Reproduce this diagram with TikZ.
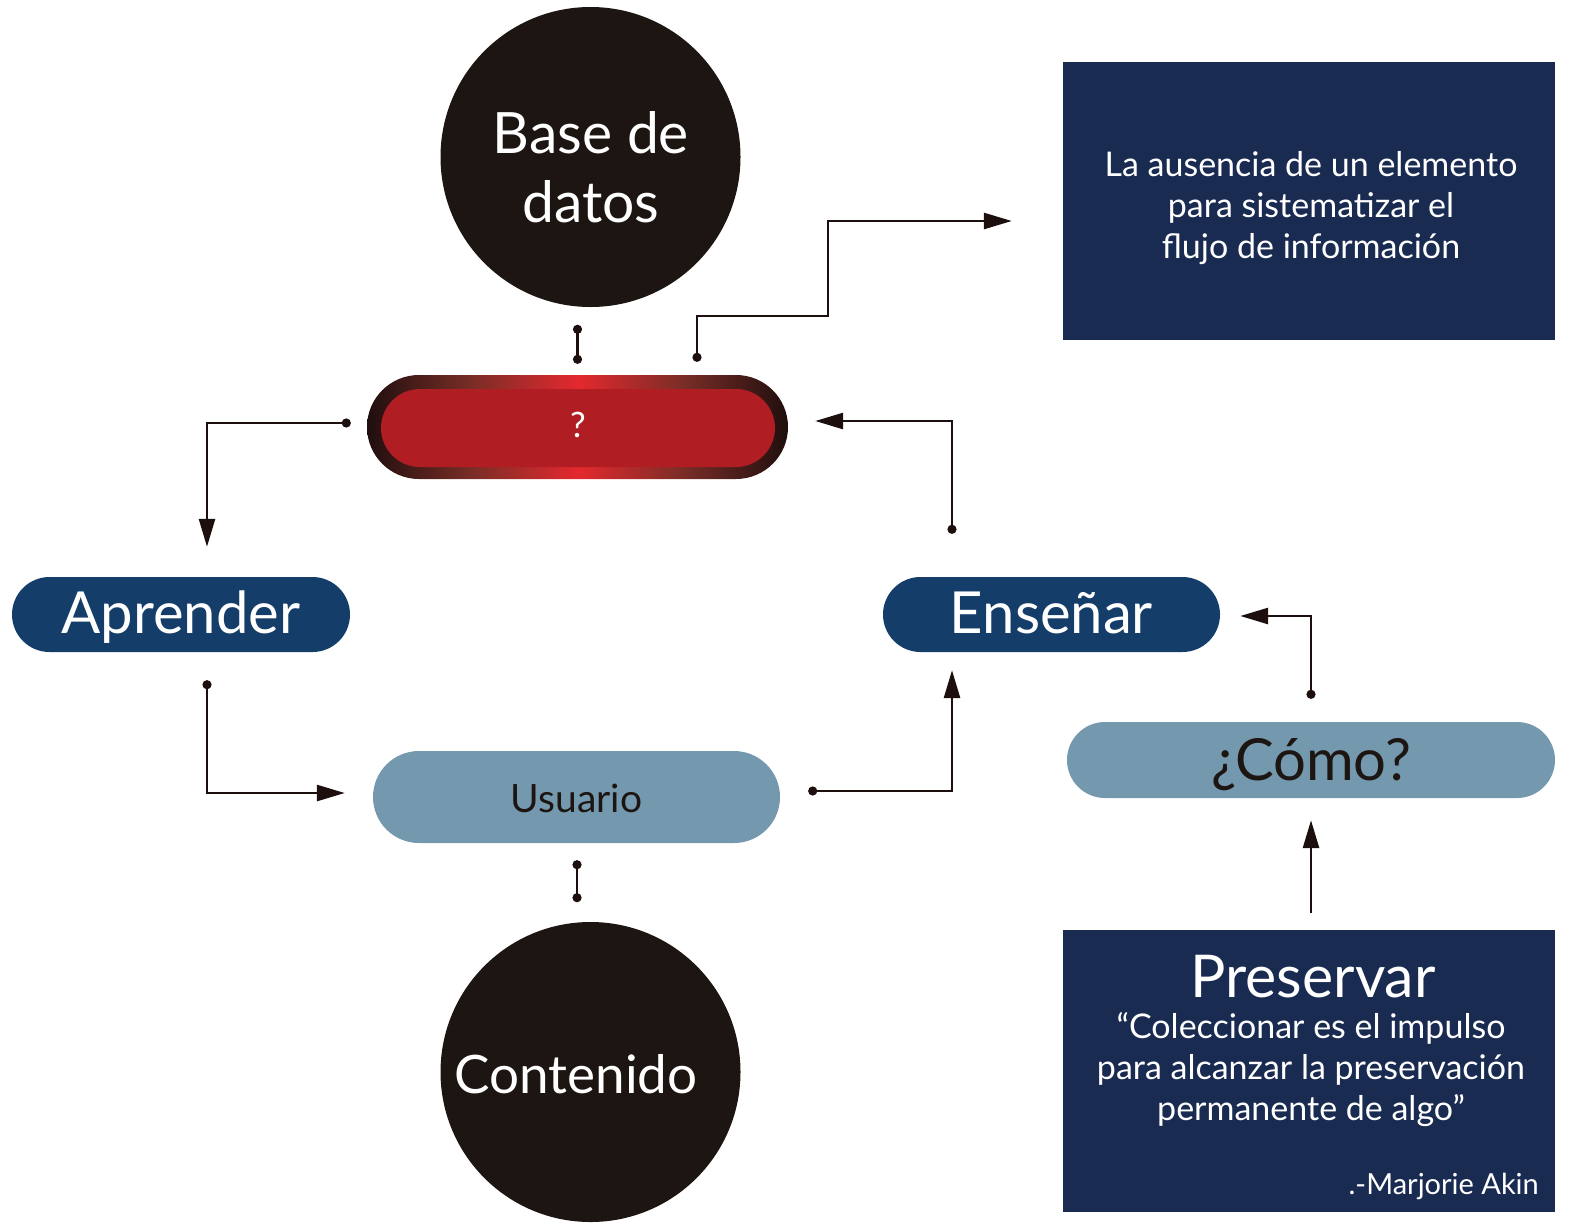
\documentclass[tikz,border=0pt]{standalone}
\usepackage{fontspec}
\setmainfont{Lato}
\usetikzlibrary{arrows.meta,calc}
\definecolor{circ}{HTML}{1C1512}
\definecolor{navy}{HTML}{1A2B52}
\definecolor{pillblue}{HTML}{153D69}
\definecolor{steel}{HTML}{7499AE}
\definecolor{redin}{HTML}{B01E23}
\definecolor{redglowc}{HTML}{E3292E}
\definecolor{reddark}{HTML}{1F0F0E}
\definecolor{redmid}{HTML}{7A2D27}
\definecolor{wire}{HTML}{1C0F0D}
\pgfdeclarehorizontalshading{redglow}{100bp}{color(0bp)=(reddark); color(25bp)=(reddark); color(37.5bp)=(redmid); color(50bp)=(redglowc); color(62.5bp)=(redmid); color(75bp)=(reddark); color(100bp)=(reddark)}
\tikzset{
  bigcirc/.style={circle, fill=circ, minimum size=300bp, inner sep=0pt},
  bigtxt/.style={text=white, font=\fontsize{57bp}{69bp}\selectfont, align=center, inner sep=0pt},
  navybox/.style={rectangle, fill=navy, inner sep=0pt},
  boxtxt/.style={text=white, font=\fontsize{34bp}{41bp}\selectfont, align=center, inner sep=0pt},
  darkpill/.style={rectangle, rounded corners=37.5bp, fill=pillblue, minimum height=75bp,
    text=white, font=\fontsize{58bp}{68bp}\selectfont, inner sep=0pt, text height=37bp, text depth=0pt},
  lightpill/.style={rectangle, fill=steel, text=circ, inner sep=0pt, text depth=0pt},
  conn/.style={draw=wire, line width=2.7bp, {Circle[length=9bp]}-{Triangle[length=28bp,width=16bp]}},
  plainarrow/.style={draw=wire, line width=2.7bp, -{Triangle[length=28bp,width=16bp]}},
  dotline/.style={draw=wire, line width=2.7bp, {Circle[length=9bp]}-{Circle[length=9bp]}}
}
\begin{document}
\begin{tikzpicture}[x=1bp,y=-1bp]
\useasboundingbox (0,0) rectangle (1575,1227);
% circles
\node[bigcirc] (db) at (590.5,157) {};
\node[bigtxt, anchor=base] (dbtext) at (591,222) {Base de\\datos};
\node[bigcirc] (cont) at (590.5,1072) {};
\node[bigtxt, font=\fontsize{53bp}{60bp}\selectfont, anchor=base] (conttext) at (576,1093) {Contenido};
% red pill
\node[rectangle, rounded corners=52bp, minimum width=421bp, minimum height=104bp,
      shade, shading=redglow, inner sep=0pt] (qout) at (577.5,427) {};
\node[rectangle, rounded corners=39bp, minimum width=394bp, minimum height=78bp, fill=redin,
      text=white, font=\fontsize{35bp}{40bp}\selectfont, inner sep=0pt, text height=19bp, text depth=0pt] (q) at (578,428) {?};
% boxes
\node[navybox, minimum width=492bp, minimum height=278bp] (tr) at (1309,201) {};
\node[boxtxt, anchor=base] (trtext) at (1311,258) {La ausencia de un elemento\\para sistematizar el\\flujo de información};
\node[navybox, minimum width=492bp, minimum height=282bp] (br) at (1309,1071) {};
\node[text=white, font=\fontsize{59bp}{64bp}\selectfont, inner sep=0pt, anchor=base] (prestitle) at (1313,997) {Preservar};
\node[boxtxt, anchor=base] (quote) at (1311,1120) {“Coleccionar es el impulso\\para alcanzar la preservación\\permanente de algo”};
\node[text=white, font=\fontsize{29bp}{33bp}\selectfont, inner sep=0pt, anchor=base east] (author) at (1539,1194) {.-Marjorie Akin};
% pills
\node[darkpill, minimum width=338bp] (apr) at (181,614.5) {Aprender};
\node[darkpill, minimum width=337bp] (ens) at (1051.5,614.5) {Enseñar};
\node[lightpill, rounded corners=46bp, minimum width=407bp, minimum height=92bp,
      font=\fontsize{39bp}{44bp}\selectfont, text height=30bp] (usu) at (576.5,797) {Usuario};
\node[lightpill, rounded corners=38bp, minimum width=488bp, minimum height=76bp,
      font=\fontsize{58bp}{64bp}\selectfont, text height=40bp] (como) at (1311,760) {¿Cómo?};
% connector end points
\coordinate (c1a) at ($(qout.north)+(0,-50)$);
\coordinate (c1b) at ($(qout.north)+(0,-11)$);
\coordinate (c2s) at ($(qout.north)+(119.5,-13)$);
\coordinate (c2m) at (828,316);
\coordinate (c2e) at ($(tr.west)+(-51,20)$);
\coordinate (c3s) at ($(qout.west)+(-16,-4)$);
\coordinate (c3e) at ($(apr.north)+(26,-30)$);
\coordinate (c4s) at ($(ens.north)+(-99.5,-43)$);
\coordinate (c4e) at ($(qout.east)+(27,-6)$);
\coordinate (c5s) at ($(apr.south)+(26,28)$);
\coordinate (c5e) at ($(usu.west)+(-28,-4)$);
\coordinate (c6s) at ($(usu.east)+(28,-6)$);
\coordinate (c6e) at ($(ens.south)+(-99.5,18)$);
\coordinate (c7a) at ($(usu.south)+(0.5,17)$);
\coordinate (c7b) at ($(usu.south)+(0.5,59)$);
\coordinate (c8s) at ($(como.north)+(0,-23)$);
\coordinate (c8e) at ($(ens.east)+(20,1.5)$);
\coordinate (c9s) at ($(br.north)+(2,-17)$);
\coordinate (c9e) at ($(como.south)+(0,22)$);
% connectors
\draw[dotline] (c1a) -- (c1b);
\draw[conn] (c2s) |- (c2m) |- (c2e);
\draw[conn] (c3s) -| (c3e);
\draw[conn] (c4s) |- (c4e);
\draw[conn] (c5s) |- (c5e);
\draw[conn] (c6s) -| (c6e);
\draw[dotline] (c7a) -- (c7b);
\draw[conn] (c8s) |- (c8e);
\draw[plainarrow] (c9s) -- (c9e);
\end{tikzpicture}
\end{document}
